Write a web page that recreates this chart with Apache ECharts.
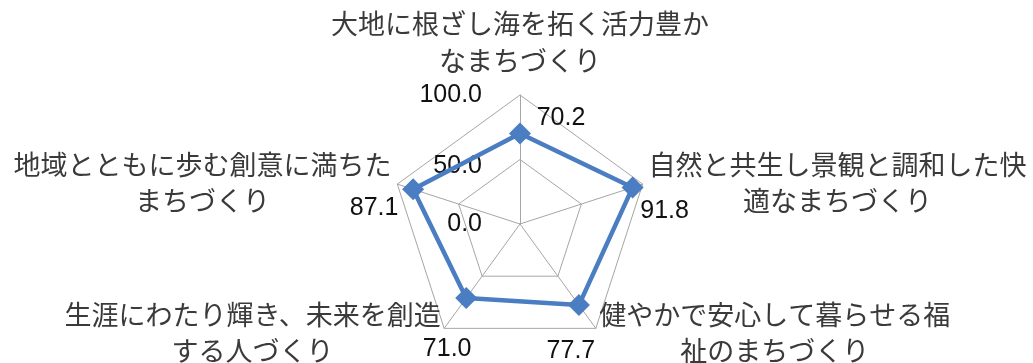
<!DOCTYPE html>
<html>
<head>
<meta charset="utf-8">
<script src="https://cdn.jsdelivr.net/npm/echarts@6/dist/echarts.min.js"></script>
<style>
html,body{margin:0;padding:0;background:#fff;}
#chart{width:1033px;height:363px;}
</style>
</head>
<body>
<div id="chart"></div>
<script>
// categories and values in the chart's clockwise order, starting at the top
const categories = [
  '大地に根ざし海を拓く活力豊か\nなまちづくり',
  '自然と共生し景観と調和した快\n適なまちづくり',
  '健やかで安心して暮らせる福\n祉のまちづくり',
  '生涯にわたり輝き、未来を創造\nする人づくり',
  '地域とともに歩む創意に満ちた\nまちづくり'
];
const values = [70.2, 91.8, 77.7, 71.0, 87.1];
const tickLabels = ['0.0', '50.0', '100.0'];
const axisMin = 0, axisMax = 100, splitCount = 2;

// ECharts lays indicators out counter-clockwise; map to clockwise order
const order = categories.map((_, i) => (categories.length - i) % categories.length);

// label offsets (dx, dy) for each vertex's data label (clockwise order), pixels
const labelOffsets = [[41, -15], [32, 24], [-8, 46], [-19, 51], [-39, 19]];

const BLUE = '#4a7dc1';
const GRID = '#a6a6a6';
const NUMFONT = '"Liberation Sans", Arial, sans-serif';
const JPFONT = '"Noto Sans CJK JP", sans-serif';

const labelRich = {};
labelOffsets.forEach((o, i) => {
  const dx = o[0], dy = o[1];
  labelRich['d' + i] = {
    fontSize: 25, fontFamily: NUMFONT, color: '#111',
    padding: [Math.max(0, 2 * dy), Math.max(0, -2 * dx), Math.max(0, -2 * dy), Math.max(0, 2 * dx)]
  };
});

const nameStyle = {align: 'center', fontSize: 27, lineHeight: 36, fontFamily: JPFONT, color: '#3a3a3a'};
const tickStyle = {fontSize: 25, fontFamily: NUMFONT, color: '#111'};

const chart = echarts.init(document.getElementById('chart'), null, {renderer: 'canvas'});
chart.setOption({
  animation: false,
  backgroundColor: '#fff',
  radar: {
    center: [520, 224],
    radius: 129,
    startAngle: 90,
    shape: 'polygon',
    splitNumber: splitCount,
    nameGap: 6,
    indicator: order.map((k, i) => {
      const ind = {name: categories[k], min: axisMin, max: axisMax};
      if (i === 0) {
        ind.axisLabel = {
          show: true, margin: 38,
          formatter: (v) => {
            const idx = Math.round((v - axisMin) / ((axisMax - axisMin) / splitCount));
            return '{' + (idx === 1 ? 'm' : 'a') + '|' + tickLabels[idx] + '}';
          },
          rich: {a: tickStyle, m: Object.assign({}, tickStyle, {padding: [14, 0, 0, 0]})}
        };
      }
      return ind;
    }),
    axisName: {
      color: '#3a3a3a',
      fontFamily: JPFONT,
      fontSize: 27,
      formatter: (name) => {
        const isTop = name === categories[0];
        const lines = name.split('\n');
        return lines.map((l, j) => '{' + (isTop ? (j === 0 ? 'u' : 't') : 'n') + '|' + l + '}').join('\n');
      },
      rich: {
        n: nameStyle,
        u: Object.assign({}, nameStyle, {padding: [0, 0, 10, 0]}),
        t: Object.assign({}, nameStyle, {padding: [0, 0, 8, 0]})
      }
    },
    splitLine: {lineStyle: {color: GRID, width: 1}},
    splitArea: {show: false},
    axisLine: {lineStyle: {color: GRID, width: 1}},
    axisTick: {show: false},
    axisLabel: {show: false}
  },
  series: [{
    type: 'radar',
    symbol: 'diamond',
    symbolSize: 22,
    lineStyle: {color: BLUE, width: 4.5},
    itemStyle: {color: BLUE},
    label: {
      show: true,
      position: 'inside',
      formatter: (p) => {
        const v = Array.isArray(p.value) ? p.value[p.dimensionIndex] : p.value;
        return '{d' + order[p.dimensionIndex] + '|' + Number(v).toFixed(1) + '}';
      },
      rich: labelRich
    },
    data: [{value: order.map(k => values[k])}]
  }]
});
</script>
</body>
</html>
